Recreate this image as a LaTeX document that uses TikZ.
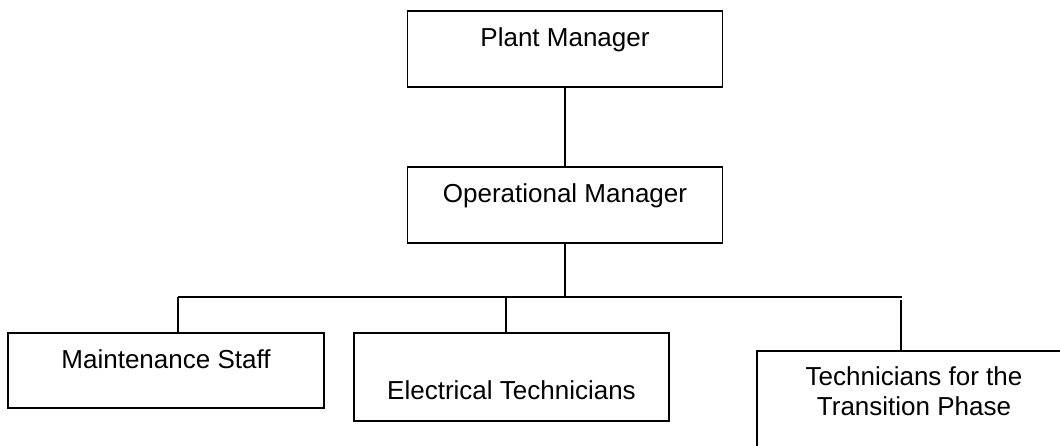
\documentclass[tikz,border=0pt]{standalone}
\usepackage{fontspec}
\setmainfont{Liberation Sans}
\begin{document}
\begin{tikzpicture}[x=1pt,y=-1pt,
  box/.style={draw=black, line width=1.8pt, rectangle, inner sep=0pt, fill=white},
  conn/.style={draw=black, line width=1.8pt},
  lbl/.style={anchor=base, inner sep=0pt, font=\fontsize{26}{30}\selectfont}]
\useasboundingbox (0,0) rectangle (1060,446);
\clip (0,0) rectangle (1060,446);
\fill[white] (0,0) rectangle (1060,446);
% boxes
\node[box, minimum width=315pt, minimum height=76pt] (pm) at (565,49) {};
\node[box, minimum width=315pt, minimum height=76pt] (om) at (565,205) {};
\node[box, minimum width=316pt, minimum height=75pt] (ms) at (166,370.5) {};
\node[box, minimum width=315pt, minimum height=88pt] (et) at (511.5,377) {};
\node[box, minimum width=314pt, minimum height=120pt] (tt) at (914,411) {};
% labels
\node[lbl] (pmt) at (565,47) {Plant Manager};
\node[lbl] (omt) at (565,203) {Operational Manager};
\node[lbl] (mst) at (166,368) {Maintenance Staff};
\node[lbl] (ett) at (511.5,399) {Electrical Technicians};
\node[lbl] (tt1) at (914,385) {Technicians for the};
\node[lbl] (tt2) at (914,415) {Transition Phase};
% bus coordinates
\coordinate (busL) at (178,297);
\coordinate (busR) at (902,297);
\coordinate (busE) at (506,297);
\coordinate (ttTop) at (901,300);
% connectors
\draw[conn] (pm.south) -- (om.north);
\draw[conn] (om.south) -- (om.south |- busL);
\draw[conn] (busL) -- (busR);
\draw[conn] (busL) -- (busL |- ms.north);
\draw[conn] (busE) -- (busE |- et.north);
\draw[conn] (ttTop) -- (ttTop |- tt.north);
\end{tikzpicture}
\end{document}
